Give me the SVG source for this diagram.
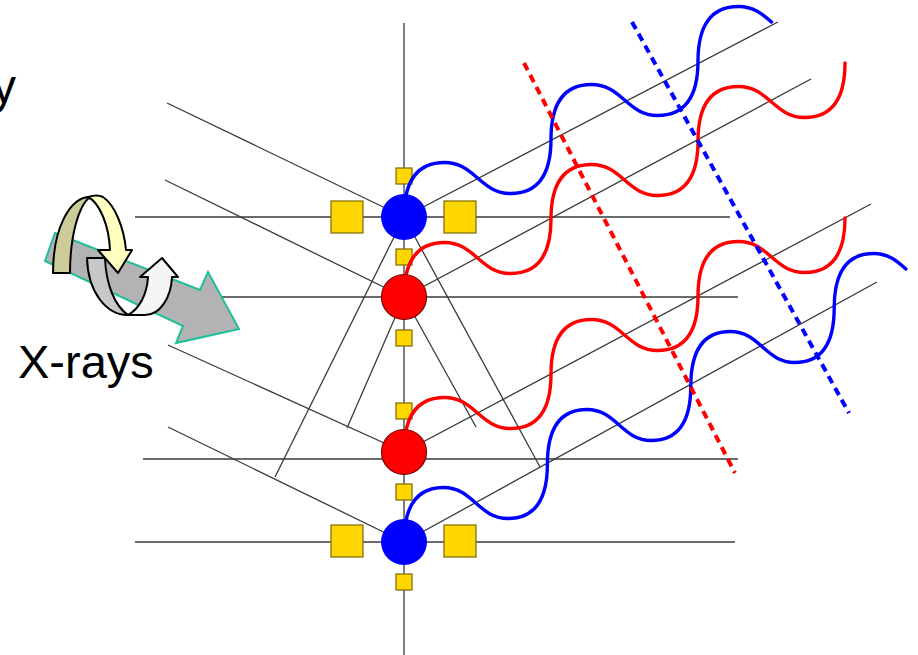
<svg xmlns="http://www.w3.org/2000/svg" width="918" height="655" viewBox="0 0 918 655">
  <style>
    .ln { fill: none; stroke: #3a3a3a; stroke-width: 1.3; }
    .site { fill: #ffd600; stroke: #7d6a00; stroke-width: 1.2; }
    .wave { fill: none; stroke-width: 3.4; stroke-linecap: round; }
    .blue { stroke: #0000ff; }
    .red { stroke: #ff0000; }
    .front { fill: none; stroke-width: 4; stroke-dasharray: 8 5.5; }
    .outline { stroke: #000; stroke-width: 2; stroke-linejoin: round; }
    .label { font-family: "Liberation Sans", Arial, sans-serif; fill: #000; }
  </style>
  <defs>
    <!-- one wave period, peak to peak: (147,-78) -->
  </defs>

  <g id="connectors">
    <path class="ln" d="M404,23 V655"/>
    <!-- lattice planes -->
    <path class="ln" d="M135,217 H730"/>
    <path class="ln" d="M140,297 H738"/>
    <path class="ln" d="M143,459 H738"/>
    <path class="ln" d="M135,542 H735"/>
    <!-- incoming rays -->
    <path class="ln" d="M167,103 L404,217"/>
    <path class="ln" d="M165,180 L404,297"/>
    <path class="ln" d="M168,345 L404,452"/>
    <path class="ln" d="M168,427 L404,542"/>
    <!-- scattered rays -->
    <path class="ln" d="M404,217 L778,22"/>
    <path class="ln" d="M404,297 L811,79"/>
    <path class="ln" d="M404,452 L871,204"/>
    <path class="ln" d="M404,542 L877,282"/>
    <!-- path-difference construction -->
    <path class="ln" d="M404,217 L275,477"/>
    <path class="ln" d="M404,217 L540,467"/>
    <path class="ln" d="M404,297 L347,428"/>
    <path class="ln" d="M404,297 L476,427"/>
  </g>

  <g id="sites">
    <rect class="site" x="331" y="201" width="32" height="32"/>
    <rect class="site" x="444" y="201" width="32" height="32"/>
    <rect class="site" x="331" y="525" width="32" height="32"/>
    <rect class="site" x="444" y="525" width="32" height="32"/>
    <rect class="site" x="396" y="168" width="16" height="16"/>
    <rect class="site" x="396" y="249" width="16" height="16"/>
    <rect class="site" x="396" y="330" width="16" height="16"/>
    <rect class="site" x="396" y="403" width="16" height="16"/>
    <rect class="site" x="396" y="484" width="16" height="16"/>
    <rect class="site" x="396" y="574" width="16" height="16"/>
  </g>

  <g id="waves">
    <path class="wave blue" d="M404,217 c0,-35 12.5,-54.5 40.5,-54.5
      c30,0 36,31 66,31 c28,0 40.5,-19.5 40.5,-54.5 c0,-35 12.5,-54.5 40.5,-54.5
      c30,0 36,31 66,31 c28,0 40.5,-19.5 40.5,-54.5 c0,-35 12.5,-54.5 40.5,-54.5
      c15,0 24,7.75 33,15.5"/>
    <path class="wave red" d="M404,297 c0,-35 12.5,-54.5 40.5,-54.5
      c30,0 36,31 66,31 c28,0 40.5,-19.5 40.5,-54.5 c0,-35 12.5,-54.5 40.5,-54.5
      c30,0 36,31 66,31 c28,0 40.5,-19.5 40.5,-54.5 c0,-35 12.5,-54.5 40.5,-54.5
      c30,0 36,31 66,31 c28,0 40.5,-19.5 40.5,-54.5"/>
    <path class="wave red" d="M404,452 c0,-35 12.5,-54.5 40.5,-54.5
      c30,0 36,31 66,31 c28,0 40.5,-19.5 40.5,-54.5 c0,-35 12.5,-54.5 40.5,-54.5
      c30,0 36,31 66,31 c28,0 40.5,-19.5 40.5,-54.5 c0,-35 12.5,-54.5 40.5,-54.5
      c30,0 36,31 66,31 c28,0 40.5,-19.5 40.5,-54.5"/>
    <path class="wave blue" d="M404,542 c0,-35 12.2,-54.5 39.5,-54.5
      c29.3,0 35.1,31 64.4,31 c27.3,0 39.5,-19.5 39.5,-54.5 c0,-35 12.2,-54.5 39.5,-54.5
      c29.3,0 35.1,31 64.4,31 c27.3,0 39.5,-19.5 39.5,-54.5 c0,-35 12.2,-54.5 39.5,-54.5
      c29.3,0 35.1,31 64.4,31 c27.3,0 39.5,-19.5 39.5,-54.5 c0,-35 12.2,-54.5 39.5,-54.5
      c14.6,0 23.4,7.75 32.2,15.5"/>
  </g>

  <g id="atom-1"><circle cx="404" cy="217" r="23" fill="#0000ff"/></g>
  <g id="atom-2"><circle cx="404" cy="297" r="22.5" fill="#ff0000" stroke="#7a0000" stroke-width="1.2"/></g>
  <g id="atom-3"><circle cx="404" cy="452" r="22.5" fill="#ff0000" stroke="#7a0000" stroke-width="1.2"/></g>
  <g id="atom-4"><circle cx="404" cy="542" r="23" fill="#0000ff"/></g>

  <g id="wavefronts">
    <path class="front red" d="M524,63 L735,473"/>
    <path class="front blue" d="M632,22 L849,413"/>
  </g>

  <g id="beam">
    <polygon points="55,233 200,290 208,272 239,329 176,343 183,326 45,261" fill="#b3b3b3" stroke="#1dbf9a" stroke-width="2" stroke-linejoin="miter"/>
    <!-- rotation sign: lower half -->
    <path class="outline" fill="#c8c8c8" d="M87,258 L105,258 C106,285 115,306 128,315 C106,315 88,292 87,258 Z"/>
    <path class="outline" fill="#f5f5f5" d="M128,315 C139,309 147,295 148,277 L140,277 L162,258 L178,277 L172,277 C171,298 160,315 145,315 Z"/>
    <!-- rotation sign: upper half -->
    <path class="outline" fill="#cccc99" d="M53,273 C53,228 70,197 90,197 C79,205 70,235 70,273 Z"/>
    <path class="outline" fill="#ffffc0" d="M88,197 C94,195 99,195 103,197 C115,205 124,228 126,250 L132,250 L118,273 L98,250 L110,250 C109,226 100,203 88,197 Z"/>
  </g>

  <text class="label" x="-8" y="103" font-size="48">y</text>
  <text class="label" x="18" y="378" font-size="47">X-rays</text>
</svg>
